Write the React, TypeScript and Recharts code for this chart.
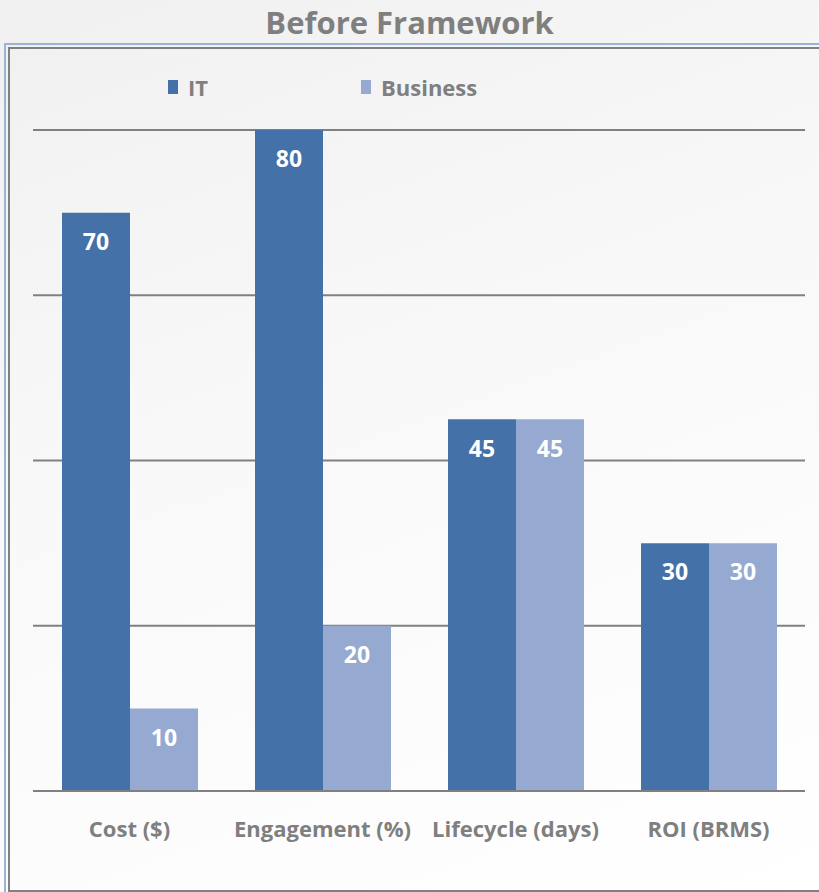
import React from 'react';
import { BarChart, Bar, XAxis, YAxis, CartesianGrid, LabelList } from 'recharts';

const categories = ['Cost ($)', 'Engagement (%)', 'Lifecycle (days)', 'ROI (BRMS)'];
const itValues = [70, 80, 45, 30];
const businessValues = [10, 20, 45, 30];
const yTicks = [0, 20, 40, 60, 80];

const data = categories.map((name, i) => ({ name, IT: itValues[i], Business: businessValues[i] }));

const IT_COLOR = '#4472a8';
const BIZ_COLOR = '#95a9d1';
const GRAY = '#7f7f7f';
const FONT = '"Open Sans", sans-serif';

function LegendBox() {
  const items = [
    { label: 'IT', color: IT_COLOR, x: 168 },
    { label: 'Business', color: BIZ_COLOR, x: 361 },
  ];
  return (
    <>
      {items.map((it) => (
        <div
          key={it.label}
          style={{ position: 'absolute', left: it.x, top: 72, display: 'flex', alignItems: 'center', fontFamily: FONT, fontWeight: 700, fontSize: 22, color: GRAY }}
        >
          <span style={{ display: 'inline-block', width: 10, height: 14, background: it.color, marginRight: 10 }} />
          {it.label}
        </div>
      ))}
    </>
  );
}

export default function App() {
  return (
    <div
      style={{
        position: 'absolute',
        left: 0,
        top: 0,
        width: 819,
        height: 892,
        overflow: 'hidden',
        background: 'linear-gradient(160deg, #f0f0f0 0%, #f8f8f8 40%, #ffffff 100%)',
      }}
    >
      <div
        style={{ position: 'absolute', left: 0, top: 1, width: 819, textAlign: 'center', fontFamily: FONT, fontWeight: 700, fontSize: 31, color: GRAY }}
      >
        Before Framework
      </div>
      <div style={{ position: 'absolute', left: 4, top: 43, width: 830, height: 860, borderLeft: '2px solid #9ab4d8', borderTop: '2px solid #9ab4d8' }} />
      <div style={{ position: 'absolute', left: 8, top: 47, width: 830, height: 841, border: '2px solid #808080' }} />
      <LegendBox />
      <div style={{ position: 'absolute', left: 0, top: 0 }}>
        <BarChart
          width={819}
          height={892}
          data={data}
          margin={{ top: 130, right: 14, left: 33, bottom: 0 }}
          barCategoryGap={29}
          barGap={0}
        >
          <CartesianGrid horizontal vertical={false} stroke="#808080" strokeWidth={2} />
          <XAxis
            dataKey="name"
            height={101}
            axisLine={{ stroke: '#808080', strokeWidth: 2 }}
            tickLine={false}
            tick={{ fill: GRAY, fontFamily: FONT, fontWeight: 700, fontSize: 22 }}
            tickMargin={24}
            interval={0}
          />
          <YAxis hide domain={[0, 80]} ticks={yTicks} />
          <Bar dataKey="IT" fill={IT_COLOR} isAnimationActive={false}>
            <LabelList dataKey="IT" position="insideTop" offset={21} fill="#ffffff" fontFamily={FONT} fontWeight={700} fontSize={23} />
          </Bar>
          <Bar dataKey="Business" fill={BIZ_COLOR} isAnimationActive={false}>
            <LabelList dataKey="Business" position="insideTop" offset={21} fill="#ffffff" fontFamily={FONT} fontWeight={700} fontSize={23} />
          </Bar>
        </BarChart>
      </div>
    </div>
  );
}
